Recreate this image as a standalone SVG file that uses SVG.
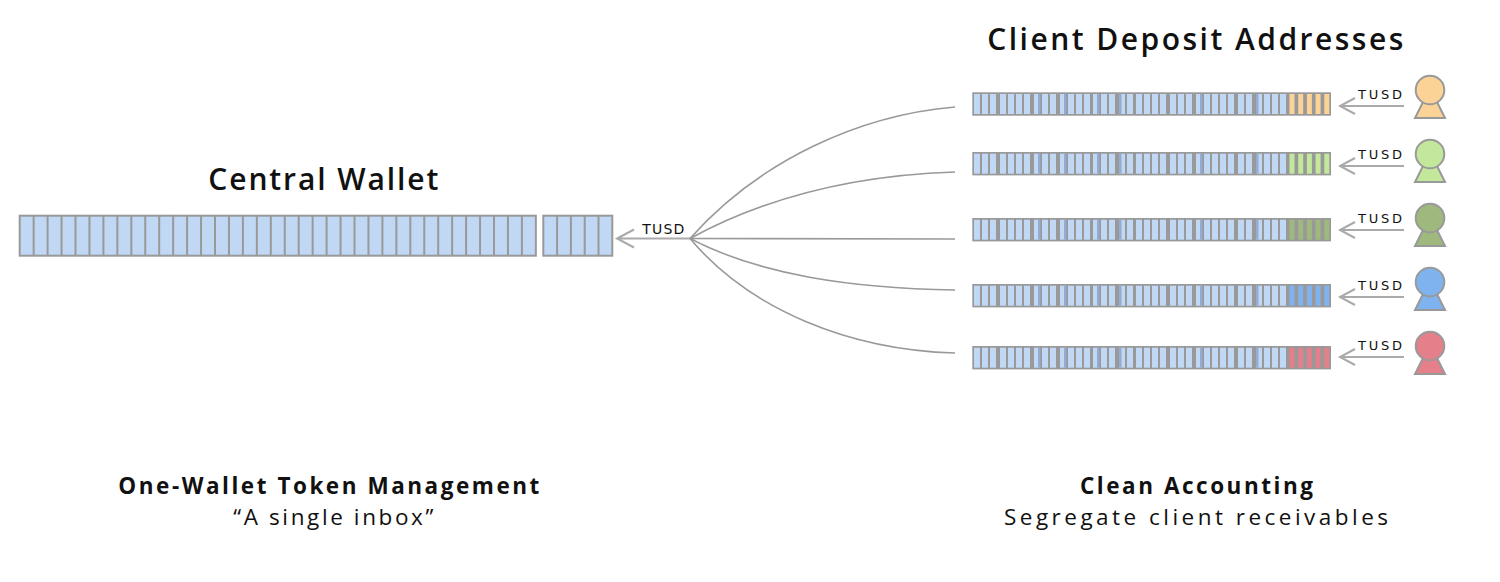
<svg xmlns="http://www.w3.org/2000/svg" xmlns:xlink="http://www.w3.org/1999/xlink" width="1500" height="582" viewBox="0 0 1500 582">
<style>
.title{font-family:"Open Sans","DejaVu Sans",sans-serif;font-weight:600;font-size:30px;fill:#111;}
.sub{font-family:"Open Sans","DejaVu Sans",sans-serif;font-weight:700;font-size:22.5px;fill:#111;}
.reg{font-family:"Open Sans","DejaVu Sans",sans-serif;font-weight:400;font-size:22.5px;fill:#111;}
.tusd{font-family:"DejaVu Sans","Open Sans",sans-serif;font-size:13px;fill:#111;}
.cell{fill:#c0d8f4;}
.dk{fill:#93acd0;}
.wall{fill:#c0d8f4;stroke:#999;stroke-width:2;}
.sep{stroke:#999;stroke-width:2;fill:none;}
.conn{stroke:#999;stroke-width:1.6;fill:none;}
.arr{stroke:#aaa;stroke-width:2;fill:none;}
.head{stroke:#999;stroke-width:2;}
</style>
<defs>
<g id="bar">
<rect x="972.3" y="-11.7" width="358.7" height="23.4" fill="#999"/>
<g class="cell">
<rect x="974" y="-10" width="6" height="20"/><rect x="982" y="-10" width="6" height="20"/><rect x="990" y="-10" width="6" height="20"/>
<rect x="1000" y="-10" width="6" height="20"/><rect x="1008" y="-10" width="6" height="20"/><rect x="1016" y="-10" width="6" height="20"/>
<rect x="1024" y="-10" width="6" height="20"/><rect x="1034" y="-10" width="6" height="20"/><rect x="1042" y="-10" width="6" height="20"/>
<rect x="1050" y="-10" width="6" height="20"/><rect x="1060" y="-10" width="6" height="20"/><rect x="1068" y="-10" width="6" height="20"/>
<rect x="1076" y="-10" width="6" height="20"/><rect x="1084" y="-10" width="6" height="20"/><rect x="1093" y="-10" width="6" height="20"/>
<rect x="1101" y="-10" width="6" height="20"/><rect x="1109" y="-10" width="6" height="20"/><rect x="1119" y="-10" width="6" height="20"/>
<rect x="1127" y="-10" width="6" height="20"/><rect x="1136" y="-10" width="6" height="20"/><rect x="1144" y="-10" width="6" height="20"/>
<rect x="1152" y="-10" width="6" height="20"/><rect x="1160" y="-10" width="6" height="20"/><rect x="1170" y="-10" width="6" height="20"/>
<rect x="1178" y="-10" width="6" height="20"/><rect x="1186" y="-10" width="6" height="20"/><rect x="1196" y="-10" width="6" height="20"/>
<rect x="1204" y="-10" width="6" height="20"/><rect x="1212" y="-10" width="6" height="20"/><rect x="1220" y="-10" width="6" height="20"/>
<rect x="1228" y="-10" width="6" height="20"/><rect x="1238" y="-10" width="6" height="20"/><rect x="1246" y="-10" width="6" height="20"/>
<rect x="1256" y="-10" width="6" height="20"/><rect x="1264" y="-10" width="6" height="20"/><rect x="1272" y="-10" width="6" height="20"/>
<rect x="1280" y="-10" width="6" height="20"/>
</g>
<g class="dk">
<rect x="1038" y="-10" width="2.5" height="20"/><rect x="1064" y="-10" width="2.5" height="20"/>
<rect x="1097" y="-10" width="2.5" height="20"/><rect x="1119" y="-10" width="2.5" height="20"/>
<rect x="1200" y="-10" width="2.5" height="20"/><rect x="1256" y="-10" width="2.5" height="20"/>
</g>
</g>
<g id="ends">
<rect x="1289.5" y="-10" width="5" height="20"/><rect x="1298.2" y="-10" width="5" height="20"/>
<rect x="1306.9" y="-10" width="5" height="20"/><rect x="1315.6" y="-10" width="5" height="20"/>
<rect x="1324.3" y="-10" width="5" height="20"/>
</g>
<path id="body" d="M1426,6 L1434,6 L1445,28 L1415,28 Z"/>
<g id="inarrow">
<path class="arr" d="M1340,0 L1404,0 M1355,-8 L1340,0 L1355,8"/>
<text class="tusd" x="1358" y="-7" textLength="44" lengthAdjust="spacing">TUSD</text>
</g>
</defs>

<g id="central-wallet">
<text class="title" x="323.3" y="190" text-anchor="middle" textLength="230" lengthAdjust="spacing">Central Wallet</text>
<rect class="wall" x="19.7" y="215.7" width="516.15" height="40"/>
<path class="sep" d="M33.65 215.7V255.7M47.6 215.7V255.7M61.55 215.7V255.7M75.5 215.7V255.7M89.45 215.7V255.7M103.4 215.7V255.7M117.35 215.7V255.7M131.3 215.7V255.7M145.25 215.7V255.7M159.2 215.7V255.7M173.15 215.7V255.7M187.1 215.7V255.7M201.05 215.7V255.7M215 215.7V255.7M228.95 215.7V255.7M242.9 215.7V255.7M256.85 215.7V255.7M270.8 215.7V255.7M284.75 215.7V255.7M298.7 215.7V255.7M312.65 215.7V255.7M326.6 215.7V255.7M340.55 215.7V255.7M354.5 215.7V255.7M368.45 215.7V255.7M382.4 215.7V255.7M396.35 215.7V255.7M410.3 215.7V255.7M424.25 215.7V255.7M438.2 215.7V255.7M452.15 215.7V255.7M466.1 215.7V255.7M480.05 215.7V255.7M494 215.7V255.7M507.95 215.7V255.7M521.9 215.7V255.7"/>
<rect class="wall" x="543.3" y="215.7" width="69" height="40"/>
<path class="sep" d="M557.1 215.7V255.7M570.9 215.7V255.7M584.7 215.7V255.7M598.5 215.7V255.7"/>
</g>

<g id="connectors">
<path class="arr" d="M617,238.5 L690,238.5 M634,229.5 L617,238.5 L634,247.5"/>
<text class="tusd" x="642.3" y="234" style="font-size:14px" textLength="42" lengthAdjust="spacing">TUSD</text>
<path class="conn" d="M690,238.5 C760,160 860,115 955,107"/>
<path class="conn" d="M690,238.5 C770,195 860,175 955,172"/>
<path class="conn" d="M690,238.5 L955,239"/>
<path class="conn" d="M690,238.5 C760,275 850,288 955,290"/>
<path class="conn" d="M690,238.5 C750,310 850,350 955,353"/>
<use xlink:href="#inarrow" transform="translate(0,106)"/>
<use xlink:href="#inarrow" transform="translate(0,166)"/>
<use xlink:href="#inarrow" transform="translate(0,230)"/>
<use xlink:href="#inarrow" transform="translate(0,297)"/>
<use xlink:href="#inarrow" transform="translate(0,357)"/>
</g>

<text class="title" x="1195.3" y="50" text-anchor="middle" textLength="416" lengthAdjust="spacing">Client Deposit Addresses</text>

<g id="client-1">
<use xlink:href="#bar" transform="translate(0,104)"/>
<use xlink:href="#ends" transform="translate(0,104)" fill="#fcd397"/>
<use xlink:href="#body" transform="translate(0,90)" fill="#fcd397" class="head"/>
<circle class="head" cx="1430" cy="90" r="14.3" fill="#fcd397"/>
</g>
<g id="client-2">
<use xlink:href="#bar" transform="translate(0,163.7)"/>
<use xlink:href="#ends" transform="translate(0,163.7)" fill="#c3e89b"/>
<use xlink:href="#body" transform="translate(0,154)" fill="#c3e89b" class="head"/>
<circle class="head" cx="1430" cy="154" r="14.3" fill="#c3e89b"/>
</g>
<g id="client-3">
<use xlink:href="#bar" transform="translate(0,229.7)"/>
<use xlink:href="#ends" transform="translate(0,229.7)" fill="#9eb87d"/>
<use xlink:href="#body" transform="translate(0,218)" fill="#9eb87d" class="head"/>
<circle class="head" cx="1430" cy="218" r="14.3" fill="#9eb87d"/>
</g>
<g id="client-4">
<use xlink:href="#bar" transform="translate(0,295.7)"/>
<use xlink:href="#ends" transform="translate(0,295.7)" fill="#7fb3ef"/>
<use xlink:href="#body" transform="translate(0,282)" fill="#7fb3ef" class="head"/>
<circle class="head" cx="1430" cy="282" r="14.3" fill="#7fb3ef"/>
</g>
<g id="client-5">
<use xlink:href="#bar" transform="translate(0,357.7)"/>
<use xlink:href="#ends" transform="translate(0,357.7)" fill="#e57f8a"/>
<use xlink:href="#body" transform="translate(0,346)" fill="#e57f8a" class="head"/>
<circle class="head" cx="1430" cy="346" r="14.3" fill="#e57f8a"/>
</g>

<g id="captions">
<text class="sub" x="328.8" y="493.5" text-anchor="middle" textLength="421" lengthAdjust="spacing">One-Wallet Token Management</text>
<text class="reg" x="333.3" y="524.5" text-anchor="middle" textLength="200" lengthAdjust="spacing">“A single inbox”</text>
<text class="sub" x="1196.5" y="493.5" text-anchor="middle" textLength="233" lengthAdjust="spacing">Clean Accounting</text>
<text class="reg" x="1196" y="524.5" text-anchor="middle" textLength="384" lengthAdjust="spacing">Segregate client receivables</text>
</g>
</svg>
